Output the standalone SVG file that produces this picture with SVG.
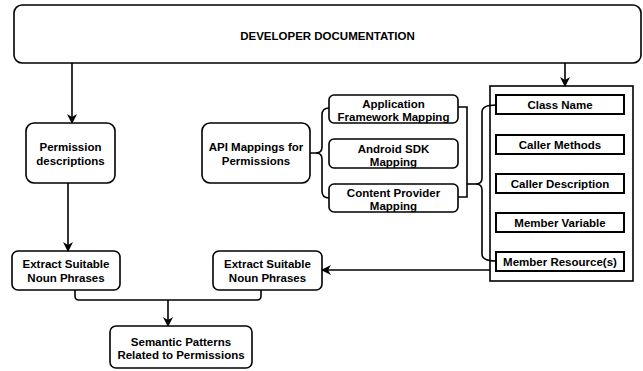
<svg xmlns="http://www.w3.org/2000/svg" width="643" height="371" viewBox="0 0 643 371">
  <defs>
    <marker id="arrow" viewBox="0 0 10 10" refX="9" refY="5" markerWidth="10" markerHeight="10" markerUnits="userSpaceOnUse" orient="auto">
      <path d="M0,0 L10,5 L0,10 L3,5 z" fill="#000"/>
    </marker>
    <style>
      .bg { fill: #fff; stroke: none; }
      .rbox, .field { fill: #fff; stroke: #000; }
      .rbox { stroke-width: 1.6; }
      .field { stroke-width: 2; }
      .frame { stroke: #000; stroke-width: 1.6; fill: none; }
      .conn path { fill: none; stroke: #000; stroke-width: 1.6; }
      text { font-family: "Liberation Sans", Arial, Helvetica, sans-serif; font-weight: bold; font-size: 11.5px; text-anchor: middle; fill: #000; }
    </style>
  </defs>

  <rect class="bg" x="0" y="0" width="643" height="371"/>

  <g id="dev-doc">
    <rect class="rbox" x="14" y="5" width="627" height="58" rx="8"/>
    <text x="327.5" y="40">DEVELOPER DOCUMENTATION</text>
  </g>

  <g id="perm-desc">
    <rect class="rbox" x="26" y="123" width="89" height="60" rx="8"/>
    <text x="70.5" y="151">Permission</text>
    <text x="70.5" y="164.5">descriptions</text>
  </g>

  <g id="api-mappings">
    <rect class="rbox" x="202" y="123" width="108" height="60" rx="8"/>
    <text x="256" y="151">API Mappings for</text>
    <text x="256" y="164.5">Permissions</text>
  </g>

  <g id="app-framework">
    <rect class="rbox" x="329" y="95" width="129" height="28" rx="5"/>
    <text x="393.5" y="107.5">Application</text>
    <text x="393.5" y="120.5">Framework Mapping</text>
  </g>

  <g id="android-sdk">
    <rect class="rbox" x="329" y="139" width="129" height="29" rx="5"/>
    <text x="393.5" y="152.5">Android SDK</text>
    <text x="393.5" y="165.5">Mapping</text>
  </g>

  <g id="content-provider">
    <rect class="rbox" x="329" y="184" width="129" height="28" rx="5"/>
    <text x="393.5" y="196.5">Content Provider</text>
    <text x="393.5" y="209.5">Mapping</text>
  </g>

  <g id="api-fields">
    <rect class="frame" x="490" y="86" width="143" height="195"/>
    <g id="class-name">
      <rect class="field" x="496" y="95" width="128" height="19"/>
      <text x="560" y="108.5">Class Name</text>
    </g>
    <g id="caller-methods">
      <rect class="field" x="496" y="135" width="128" height="19"/>
      <text x="560" y="148.5">Caller Methods</text>
    </g>
    <g id="caller-description">
      <rect class="field" x="496" y="174" width="128" height="19"/>
      <text x="560" y="187.5">Caller Description</text>
    </g>
    <g id="member-variable">
      <rect class="field" x="496" y="213" width="128" height="19"/>
      <text x="560" y="226.5">Member Variable</text>
    </g>
    <g id="member-resources">
      <rect class="field" x="496" y="252" width="128" height="19"/>
      <text x="560" y="265.5">Member Resource(s)</text>
    </g>
  </g>

  <g id="extract-left">
    <rect class="rbox" x="12" y="251" width="108" height="39" rx="6"/>
    <text x="66" y="268">Extract Suitable</text>
    <text x="66" y="282">Noun Phrases</text>
  </g>

  <g id="extract-right">
    <rect class="rbox" x="213" y="251" width="109" height="39" rx="6"/>
    <text x="267.5" y="268">Extract Suitable</text>
    <text x="267.5" y="282">Noun Phrases</text>
  </g>

  <g id="semantic-patterns">
    <rect class="rbox" x="110" y="326" width="142" height="42" rx="6"/>
    <text x="181" y="346">Semantic Patterns</text>
    <text x="181" y="359">Related to Permissions</text>
  </g>

  <g id="connectors" class="conn">
    <!-- documentation to permission descriptions -->
    <path d="M72,63 L72,123" marker-end="url(#arrow)"/>
    <!-- documentation to API field frame -->
    <path d="M565,63 L565,86" marker-end="url(#arrow)"/>
    <!-- permission descriptions to noun phrase extraction -->
    <path d="M68,183 L68,251" marker-end="url(#arrow)"/>
    <!-- brace: API mappings to the three mapping kinds -->
    <path d="M310,153 L316,153 Q322,153 322,147 L322,115 Q322,108 329,108"/>
    <path d="M316,153 Q322,153 322,159 L322,191 Q322,198 329,198"/>
    <!-- bracket joining the mapping kinds -->
    <path d="M458,107 L467,107 L467,197 L458,197"/>
    <path d="M467,184 L476,184"/>
    <!-- brace: mappings to API fields -->
    <path d="M476,184 Q482,184 482,178 L482,112 Q482,105 496,105"/>
    <path d="M476,184 Q482,184 482,190 L482,254 Q482,261 496,261"/>
    <!-- API fields to noun phrase extraction -->
    <path d="M490,270 L322,270" marker-end="url(#arrow)"/>
    <!-- both extractions merge into semantic patterns -->
    <path d="M75,290 L75,296 Q75,300 79,300 L257,300 Q261,300 261,296 L261,290"/>
    <path d="M168,300 L168,326" marker-end="url(#arrow)"/>
  </g>
</svg>
